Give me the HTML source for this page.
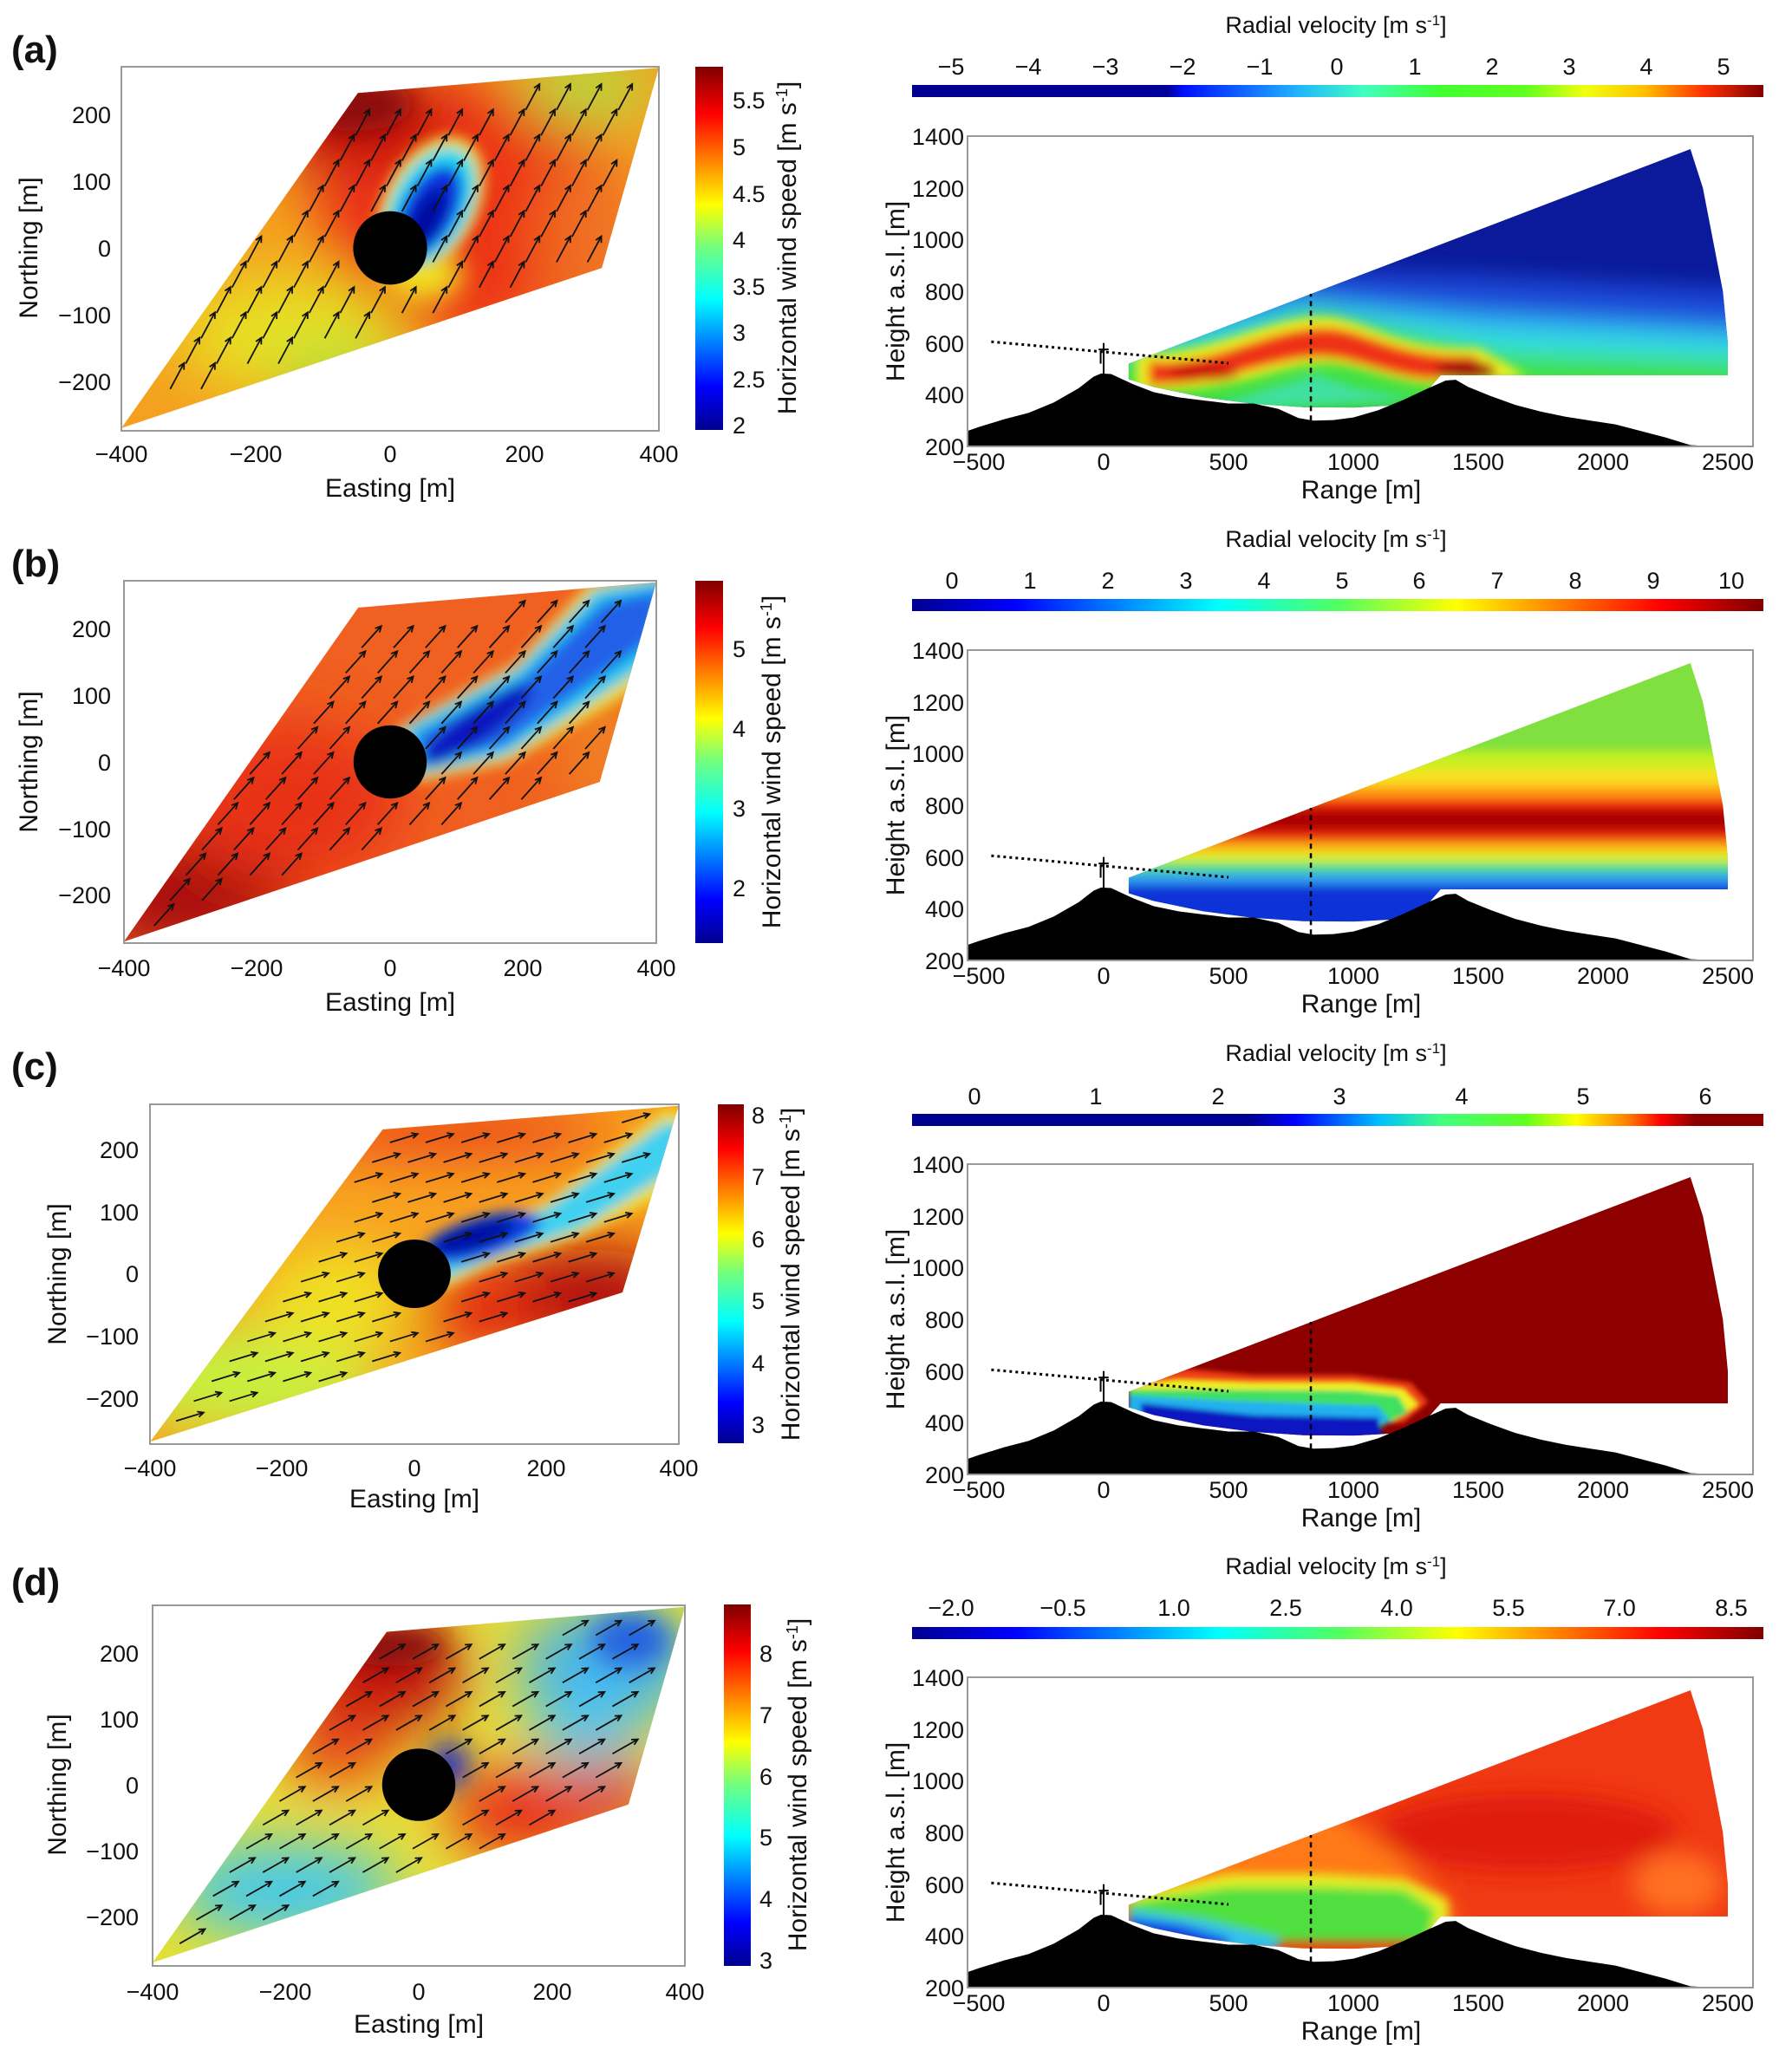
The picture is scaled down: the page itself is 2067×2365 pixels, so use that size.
<!DOCTYPE html>
<html><head><meta charset="utf-8"><style>
html,body{margin:0;padding:0;background:#fff}
svg{display:block}
text{font-family:"Liberation Sans","DejaVu Sans",sans-serif;fill:#111}
.t{font-size:27px}
.lb{font-size:30px}
.pl{font-size:44px;font-weight:bold}
.r{text-anchor:end}.m{text-anchor:middle}
</style></head><body>
<svg id="s" width="2067" height="2365" viewBox="0 0 2067 2365" xmlns="http://www.w3.org/2000/svg">
<defs>
<filter id="b0" x="-50%" y="-50%" width="200%" height="200%"><feGaussianBlur stdDeviation="10"/></filter>
<filter id="b1" x="-50%" y="-50%" width="200%" height="200%"><feGaussianBlur stdDeviation="20"/></filter>
<filter id="b2" x="-50%" y="-50%" width="200%" height="200%"><feGaussianBlur stdDeviation="45"/></filter>
<clipPath id="par"><polygon points="-400,-270 -48,232 400,270 315,-30"/></clipPath>
<clipPath id="sec"><polygon points="100,520 100,460 200,430 400,390 600,365 800,352 1000,350 1150,358 1300,420 1350,475 2500,475 2500,600 2480,800 2440,1000 2400,1200 2350,1350"/></clipPath>
<linearGradient id="jetv" x1="0" y1="1" x2="0" y2="0">
<stop offset="0" stop-color="#00008f"/><stop offset="0.12" stop-color="#0000ff"/><stop offset="0.36" stop-color="#00ffff"/><stop offset="0.5" stop-color="#70ff80"/><stop offset="0.62" stop-color="#ffff00"/><stop offset="0.87" stop-color="#ff0000"/><stop offset="1" stop-color="#800000"/></linearGradient>
<linearGradient id="ja" x1="0" x2="1"><stop offset="0" stop-color="#00008f"/><stop offset="0.3" stop-color="#00009a"/><stop offset="0.32" stop-color="#0010ff"/><stop offset="0.45" stop-color="#20b0ff"/><stop offset="0.53" stop-color="#40ffc0"/><stop offset="0.62" stop-color="#40ff30"/><stop offset="0.72" stop-color="#60ff20"/><stop offset="0.79" stop-color="#f0ff10"/><stop offset="0.86" stop-color="#ffc000"/><stop offset="0.93" stop-color="#ff3000"/><stop offset="1" stop-color="#800000"/></linearGradient>
<linearGradient id="jh" x1="0" x2="1"><stop offset="0" stop-color="#00008f"/><stop offset="0.12" stop-color="#0000ff"/><stop offset="0.36" stop-color="#00ffff"/><stop offset="0.5" stop-color="#50ff60"/><stop offset="0.64" stop-color="#ffff00"/><stop offset="0.88" stop-color="#ff0000"/><stop offset="1" stop-color="#800000"/></linearGradient>
<linearGradient id="jc" x1="0" x2="1"><stop offset="0" stop-color="#00008f"/><stop offset="0.4" stop-color="#000095"/><stop offset="0.45" stop-color="#0000ff"/><stop offset="0.55" stop-color="#00c0ff"/><stop offset="0.62" stop-color="#40ff80"/><stop offset="0.72" stop-color="#60ff20"/><stop offset="0.78" stop-color="#ffff00"/><stop offset="0.84" stop-color="#ff8000"/><stop offset="0.88" stop-color="#ff0000"/><stop offset="0.92" stop-color="#8a0000"/><stop offset="1" stop-color="#8a0000"/></linearGradient>
</defs>
<rect width="2067" height="2365" fill="#fff"/>

<!-- (a) -->
<g transform="translate(450,286) scale(0.775,-0.77)">
 <g clip-path="url(#par)">
  <rect x="-420" y="-300" width="840" height="600" fill="#f4a020"/>
  <g filter="url(#b2)">
   <ellipse cx="120" cy="60" rx="230" ry="200" fill="#ec3018"/>
   <ellipse cx="-60" cy="200" rx="140" ry="80" fill="#c01010"/>
   <ellipse cx="-150" cy="-130" rx="170" ry="90" fill="#e8e020"/>
   <ellipse cx="-80" cy="-190" rx="90" ry="40" fill="#a0e040"/>
   <ellipse cx="290" cy="240" rx="100" ry="50" fill="#b0e040"/>
   <ellipse cx="300" cy="10" rx="80" ry="150" fill="#f07020"/>
  </g>
  <g filter="url(#b1)">
   <ellipse cx="-55" cy="215" rx="90" ry="40" fill="#8a0808"/>
   <ellipse cx="50" cy="-40" rx="60" ry="40" fill="#f0e020"/>
  </g>
  <g filter="url(#b0)">
   <ellipse cx="60" cy="65" rx="70" ry="110" transform="rotate(-28 60 65)" fill="#f0e020"/>
   <ellipse cx="60" cy="62" rx="58" ry="96" transform="rotate(-28 60 62)" fill="#20d8f0"/>
   <ellipse cx="58" cy="55" rx="40" ry="75" transform="rotate(-28 58 55)" fill="#0a30e0"/>
   <ellipse cx="55" cy="45" rx="22" ry="50" transform="rotate(-28 55 45)" fill="#0010a0"/>
  </g>
 </g>
 <circle cx="0" cy="0" r="55" fill="#000"/>
 <g id="arA"></g>
</g>
<!-- (b) -->
<g transform="translate(450,879) scale(0.7675,-0.7675)">
 <g clip-path="url(#par)">
  <rect x="-420" y="-300" width="840" height="600" fill="#f06020"/>
  <g filter="url(#b2)">
   <ellipse cx="-300" cy="-200" rx="160" ry="90" fill="#a80e0e"/>
   <ellipse cx="-150" cy="-60" rx="170" ry="120" fill="#e83018"/>
   <ellipse cx="330" cy="20" rx="80" ry="120" fill="#f08020"/>
  </g>
  <g filter="url(#b0)">
   <path d="M10,50 L190,150 L300,270 L440,290 L420,140 L320,80 L180,0 L40,-30Z" fill="#f0e020"/>
   <path d="M20,50 L190,140 L310,260 L430,280 L410,160 L310,95 L175,10 L40,-20Z" fill="#20c8f0"/>
   <path d="M40,40 L200,125 L320,240 L410,260 L390,180 L290,110 L170,25 L50,-5Z" fill="#2060e8"/>
   <ellipse cx="130" cy="55" rx="100" ry="25" transform="rotate(35 130 55)" fill="#0818c0"/>
  </g>
 </g>
 <circle cx="0" cy="0" r="55" fill="#000"/>
 <g id="arB"></g>
</g>
<!-- (c) -->
<g transform="translate(478,1469.5) scale(0.762,-0.7175)">
 <g clip-path="url(#par)">
  <rect x="-420" y="-300" width="840" height="600" fill="#f8a020"/>
  <g filter="url(#b2)">
   <ellipse cx="-250" cy="-170" rx="200" ry="90" fill="#c8f040"/>
   <ellipse cx="-120" cy="-40" rx="120" ry="90" fill="#f0e020"/>
   <ellipse cx="260" cy="-40" rx="160" ry="80" fill="#b01010"/>
   <ellipse cx="100" cy="-60" rx="100" ry="60" fill="#e02010"/>
   <ellipse cx="60" cy="230" rx="240" ry="35" fill="#e83018"/>
  </g>
  <g filter="url(#b0)">
   <path d="M20,45 L200,115 L380,265 L430,250 L420,150 L250,60 L120,15 L40,-25Z" fill="#f0e020"/>
   <path d="M30,42 L200,105 L380,245 L425,235 L400,170 L250,72 L120,25 L40,-12Z" fill="#40d0f0"/>
   <ellipse cx="100" cy="58" rx="95" ry="32" transform="rotate(18 100 58)" fill="#1040e0"/>
   <ellipse cx="90" cy="60" rx="65" ry="20" transform="rotate(18 90 60)" fill="#0010a0"/>
  </g>
 </g>
 <circle cx="0" cy="0" r="55" fill="#000"/>
 <g id="arC"></g>
</g>
<!-- (d) -->
<g transform="translate(483,2059) scale(0.768,-0.76)">
 <g clip-path="url(#par)">
  <rect x="-420" y="-300" width="840" height="600" fill="#e8e030"/>
  <g filter="url(#b2)">
   <ellipse cx="-60" cy="170" rx="130" ry="90" fill="#c01010"/>
   <ellipse cx="-120" cy="60" rx="90" ry="60" fill="#e84018"/>
   <ellipse cx="280" cy="180" rx="130" ry="90" fill="#40b0f0"/>
   <ellipse cx="250" cy="90" rx="80" ry="60" fill="#50c8f0"/>
   <ellipse cx="160" cy="-40" rx="120" ry="70" fill="#e82818"/>
   <ellipse cx="300" cy="-20" rx="60" ry="60" fill="#e03020"/>
   <ellipse cx="-200" cy="-160" rx="170" ry="70" fill="#40c8f0"/>
  </g>
  <g filter="url(#b1)">
   <ellipse cx="-40" cy="210" rx="80" ry="30" fill="#8a0808"/>
   <ellipse cx="320" cy="220" rx="60" ry="40" fill="#2060e0"/>
   <ellipse cx="45" cy="30" rx="28" ry="35" fill="#0820d0"/>
  </g>
 </g>
 <circle cx="0" cy="0" r="55" fill="#000"/>
 <g id="arD"></g>
</g>

<g fill="none" stroke="#999" stroke-width="2">
 <rect x="140" y="77" width="620" height="420"/>
 <rect x="143" y="670" width="614" height="418"/>
 <rect x="173" y="1274" width="610" height="392"/>
 <rect x="176" y="1852" width="614" height="416"/>
</g>
<rect x="802" y="77" width="32" height="419" fill="url(#jetv)"/>
<rect x="802" y="670" width="32" height="418" fill="url(#jetv)"/>
<rect x="828" y="1274" width="30" height="391" fill="url(#jetv)"/>
<rect x="835" y="1851" width="31" height="417" fill="url(#jetv)"/>

<text class="pl" x="13" y="72">(a)</text>
<text class="pl" x="13" y="665">(b)</text>
<text class="pl" x="13" y="1245">(c)</text>
<text class="pl" x="13" y="1840">(d)</text>

<g class="t">
<text class="r" x="128" y="142">200</text><text class="r" x="128" y="219">100</text><text class="r" x="128" y="296">0</text><text class="r" x="128" y="373">−100</text><text class="r" x="128" y="450">−200</text>
<text class="m" x="140" y="533">−400</text><text class="m" x="295" y="533">−200</text><text class="m" x="450" y="533">0</text><text class="m" x="605" y="533">200</text><text class="m" x="760" y="533">400</text>
<text x="845" y="500">2</text><text x="845" y="447">2.5</text><text x="845" y="393">3</text><text x="845" y="340">3.5</text><text x="845" y="286">4</text><text x="845" y="233">4.5</text><text x="845" y="179">5</text><text x="845" y="125">5.5</text>
</g>
<text class="lb m" x="450" y="573">Easting [m]</text>
<text class="lb m" transform="translate(43,286) rotate(-90)">Northing [m]</text>
<text class="lb m" transform="translate(918,286) rotate(-90)">Horizontal wind speed [m s<tspan dy="-10" font-size="18">-1</tspan><tspan dy="10">]</tspan></text>

<g class="t">
<text class="r" x="128" y="735">200</text><text class="r" x="128" y="812">100</text><text class="r" x="128" y="889">0</text><text class="r" x="128" y="966">−100</text><text class="r" x="128" y="1042">−200</text>
<text class="m" x="143" y="1126">−400</text><text class="m" x="296" y="1126">−200</text><text class="m" x="450" y="1126">0</text><text class="m" x="603" y="1126">200</text><text class="m" x="757" y="1126">400</text>
<text x="845" y="1034">2</text><text x="845" y="942">3</text><text x="845" y="850">4</text><text x="845" y="758">5</text>
</g>
<text class="lb m" x="450" y="1166">Easting [m]</text>
<text class="lb m" transform="translate(43,879) rotate(-90)">Northing [m]</text>
<text class="lb m" transform="translate(900,879) rotate(-90)">Horizontal wind speed [m s<tspan dy="-10" font-size="18">-1</tspan><tspan dy="10">]</tspan></text>

<g class="t">
<text class="r" x="160" y="1336">200</text><text class="r" x="160" y="1408">100</text><text class="r" x="160" y="1479">0</text><text class="r" x="160" y="1551">−100</text><text class="r" x="160" y="1623">−200</text>
<text class="m" x="173" y="1703">−400</text><text class="m" x="325" y="1703">−200</text><text class="m" x="478" y="1703">0</text><text class="m" x="630" y="1703">200</text><text class="m" x="783" y="1703">400</text>
<text x="867" y="1653">3</text><text x="867" y="1582">4</text><text x="867" y="1510">5</text><text x="867" y="1439">6</text><text x="867" y="1367">7</text><text x="867" y="1296">8</text>
</g>
<text class="lb m" x="478" y="1739">Easting [m]</text>
<text class="lb m" transform="translate(76,1470) rotate(-90)">Northing [m]</text>
<text class="lb m" transform="translate(922,1470) rotate(-90)">Horizontal wind speed [m s<tspan dy="-10" font-size="18">-1</tspan><tspan dy="10">]</tspan></text>

<g class="t">
<text class="r" x="160" y="1917">200</text><text class="r" x="160" y="1993">100</text><text class="r" x="160" y="2069">0</text><text class="r" x="160" y="2145">−100</text><text class="r" x="160" y="2221">−200</text>
<text class="m" x="176" y="2307">−400</text><text class="m" x="329" y="2307">−200</text><text class="m" x="483" y="2307">0</text><text class="m" x="637" y="2307">200</text><text class="m" x="790" y="2307">400</text>
<text x="876" y="2271">3</text><text x="876" y="2200">4</text><text x="876" y="2129">5</text><text x="876" y="2059">6</text><text x="876" y="1988">7</text><text x="876" y="1917">8</text>
</g>
<text class="lb m" x="483" y="2345">Easting [m]</text>
<text class="lb m" transform="translate(76,2059) rotate(-90)">Northing [m]</text>
<text class="lb m" transform="translate(930,2059) rotate(-90)">Horizontal wind speed [m s<tspan dy="-10" font-size="18">-1</tspan><tspan dy="10">]</tspan></text>

<!-- RIGHT PANELS -->
<g id="R0">
 <g transform="translate(1273,574.7) scale(0.288,-0.2983)">
  <g clip-path="url(#sec)">
   <rect x="0" y="300" width="2600" height="1100" fill="#0a1a9a"/>
   <g filter="url(#b2)">
    <path d="M0,640 L800,880 L1500,860 L2600,800 L2600,300 L0,300Z" fill="#1a48d8"/>
    <path d="M0,580 L800,780 L1500,720 L2600,660 L2600,300 L0,300Z" fill="#30b0f0"/>
    <path d="M0,560 L800,730 L1500,650 L2600,600 L2600,300 L0,300Z" fill="#30e0e0"/>
    <path d="M0,540 L500,600 L850,720 L1200,640 L1600,560 L2600,530 L2600,300 L0,300Z" fill="#40e040"/>
   </g>
   <g filter="url(#b1)">
    <path d="M130,560 C400,540 650,700 870,700 C1050,700 1150,570 1500,580 L1700,470 L1300,440 C1100,460 1000,530 850,520 C650,500 500,400 130,420Z" fill="#f0f020"/>
    <path d="M180,530 C420,500 650,660 880,660 C1050,660 1150,545 1480,550 L1580,475 L1300,460 C1100,480 1000,550 850,545 C650,535 450,430 180,440Z" fill="#ee3014"/>
    <ellipse cx="1450" cy="495" rx="120" ry="35" fill="#a00808"/>
    <ellipse cx="400" cy="485" rx="140" ry="30" fill="#c81008"/>
    <path d="M450,360 L850,480 L1000,430 L1250,380 L450,340Z" fill="#40e0a0"/>
   </g>
  </g>
 </g>
</g>
<g id="R1" transform="translate(0,593)">
 <g transform="translate(1273,574.7) scale(0.288,-0.2983)">
  <g clip-path="url(#sec)">
   <rect x="0" y="300" width="2600" height="1100" fill="#80e040"/>
   <g filter="url(#b1)">
    <rect x="0" y="930" width="2600" height="80" fill="#c8f020"/>
    <rect x="0" y="870" width="2600" height="70" fill="#f8e020"/>
    <rect x="0" y="820" width="2600" height="55" fill="#ff9818"/>
    <rect x="0" y="780" width="2600" height="45" fill="#f02810"/>
    <rect x="0" y="700" width="2600" height="85" fill="#a80404"/>
    <rect x="0" y="655" width="2600" height="50" fill="#e82010"/>
    <rect x="0" y="615" width="2600" height="45" fill="#ffb018"/>
    <rect x="0" y="575" width="2600" height="45" fill="#e0f020"/>
    <rect x="0" y="535" width="2600" height="45" fill="#50e080"/>
    <rect x="0" y="490" width="2600" height="50" fill="#30a0f0"/>
    <rect x="0" y="300" width="2600" height="195" fill="#1030d8"/>
   </g>
  </g>
 </g>
</g>
<g id="R2" transform="translate(0,1186)">
 <g transform="translate(1273,574.7) scale(0.288,-0.2983)">
  <g clip-path="url(#sec)">
   <rect x="0" y="300" width="2600" height="1100" fill="#8e0000"/>
   <g filter="url(#b0)">
    <path d="M100,570 L300,610 L600,585 L1000,585 L1230,555 L1300,480 L1200,400 L100,400Z" fill="#f04018"/>
    <path d="M100,545 L300,565 L600,555 L1000,555 L1200,530 L1260,470 L1150,400 L100,400Z" fill="#f0f020"/>
    <path d="M100,530 L400,530 L1000,525 L1180,505 L1220,440 L1100,380 L100,380Z" fill="#40e060"/>
    <path d="M100,505 L500,485 L1100,465 L1150,400 L100,380Z" fill="#20b0f0"/>
    <path d="M150,475 L600,430 L1100,420 L1120,340 L150,340Z" fill="#0818c0"/>
   </g>
  </g>
 </g>
</g>
<g id="R3" transform="translate(0,1778)">
 <g transform="translate(1273,574.7) scale(0.288,-0.2983)">
  <g clip-path="url(#sec)">
   <rect x="0" y="300" width="2600" height="1100" fill="#f03a14"/>
   <g filter="url(#b2)">
    <path d="M0,400 L0,800 L900,900 L1200,700 L1400,500 L1400,400Z" fill="#ff7a18"/>
    <ellipse cx="1700" cy="800" rx="600" ry="150" fill="#e01a10"/>
    <ellipse cx="2300" cy="600" rx="180" ry="120" fill="#ff7020"/>
   </g>
   <g filter="url(#b1)">
    <path d="M100,560 L500,640 L900,640 L1200,620 L1380,540 L1380,380 L100,380Z" fill="#e8f020"/>
    <path d="M100,530 L500,590 L900,590 L1200,580 L1330,500 L1300,380 L100,380Z" fill="#50e040"/>
    <path d="M100,500 L400,460 L700,390 L700,340 L100,340Z" fill="#30c0f0"/>
    <path d="M100,470 L300,445 L500,390 L500,340 L100,340Z" fill="#1040e0"/>
   </g>
  </g>
 </g>
</g>

<g id="terr" transform="translate(1273,574.7) scale(0.288,-0.2983)">
 <polygon fill="#000" points="-545,200 -545,260 -500,275 -400,305 -300,330 -200,370 -100,425 -40,470 -10,482 30,480 70,462 120,440 200,410 300,390 400,378 500,366 600,366 700,345 780,310 840,300 920,302 1000,312 1100,340 1200,380 1300,425 1370,455 1410,458 1460,430 1550,395 1650,360 1750,335 1850,315 1950,300 2050,285 2150,260 2250,235 2350,205 2450,200"/>
 <line x1="-450" y1="605" x2="500" y2="522" stroke="#000" stroke-width="3" stroke-dasharray="3 4" vector-effect="non-scaling-stroke"/>
 <line x1="830" y1="300" x2="830" y2="790" stroke="#000" stroke-width="2.5" stroke-dasharray="6 5" vector-effect="non-scaling-stroke"/>
 <line x1="0" y1="480" x2="0" y2="600" stroke="#000" stroke-width="2" vector-effect="non-scaling-stroke"/>
 <line x1="-20" y1="575" x2="20" y2="575" stroke="#000" stroke-width="2" vector-effect="non-scaling-stroke"/>
 <line x1="-12" y1="570" x2="-12" y2="520" stroke="#000" stroke-width="2" vector-effect="non-scaling-stroke"/>
</g>
<use href="#terr" transform="translate(0,593)"/>
<use href="#terr" transform="translate(0,1186)"/>
<use href="#terr" transform="translate(0,1778)"/>

<g id="rax">
 <rect x="1116" y="157" width="906" height="358" fill="none" stroke="#999" stroke-width="2"/>
 <g class="t">
  <text class="r" x="1112" y="525">200</text><text class="r" x="1112" y="465">400</text><text class="r" x="1112" y="406">600</text><text class="r" x="1112" y="346">800</text><text class="r" x="1112" y="286">1000</text><text class="r" x="1112" y="227">1200</text><text class="r" x="1112" y="167">1400</text>
  <text class="m" x="1129" y="542">−500</text><text class="m" x="1273" y="542">0</text><text class="m" x="1417" y="542">500</text><text class="m" x="1561" y="542">1000</text><text class="m" x="1705" y="542">1500</text><text class="m" x="1849" y="542">2000</text><text class="m" x="1993" y="542">2500</text>
 </g>
 <text class="lb m" x="1570" y="575">Range [m]</text>
 <text class="lb m" transform="translate(1043,336) rotate(-90)">Height a.s.l. [m]</text>
 <text class="t m" x="1541" y="38">Radial velocity [m s<tspan dy="-9" font-size="17">-1</tspan><tspan dy="9">]</tspan></text>
</g>
<use href="#rax" transform="translate(0,593)"/>
<use href="#rax" transform="translate(0,1186)"/>
<use href="#rax" transform="translate(0,1778)"/>

<rect x="1052" y="98" width="982" height="14" fill="url(#ja)"/>
<rect x="1052" y="691" width="982" height="14" fill="url(#jh)"/>
<rect x="1052" y="1285" width="982" height="14" fill="url(#jc)"/>
<rect x="1052" y="1877" width="982" height="14" fill="url(#jh)"/>
<g class="t m">
 <text x="1097" y="86">−5</text><text x="1186" y="86">−4</text><text x="1275" y="86">−3</text><text x="1364" y="86">−2</text><text x="1453" y="86">−1</text><text x="1542" y="86">0</text><text x="1632" y="86">1</text><text x="1721" y="86">2</text><text x="1810" y="86">3</text><text x="1899" y="86">4</text><text x="1988" y="86">5</text>
 <text x="1098" y="679">0</text><text x="1188" y="679">1</text><text x="1278" y="679">2</text><text x="1368" y="679">3</text><text x="1458" y="679">4</text><text x="1548" y="679">5</text><text x="1637" y="679">6</text><text x="1727" y="679">7</text><text x="1817" y="679">8</text><text x="1907" y="679">9</text><text x="1997" y="679">10</text>
 <text x="1124" y="1274">0</text><text x="1264" y="1274">1</text><text x="1405" y="1274">2</text><text x="1545" y="1274">3</text><text x="1686" y="1274">4</text><text x="1826" y="1274">5</text><text x="1967" y="1274">6</text>
 <text x="1097" y="1864">−2.0</text><text x="1226" y="1864">−0.5</text><text x="1354" y="1864">1.0</text><text x="1483" y="1864">2.5</text><text x="1611" y="1864">4.0</text><text x="1740" y="1864">5.5</text><text x="1868" y="1864">7.0</text><text x="1997" y="1864">8.5</text>
</g>
</svg>
<script>
(function(){
 var NS="http://www.w3.org/2000/svg";
 var P=[[-400,-270],[-48,232],[400,270],[315,-30]];
 function inside(x,y){
  var n=P.length,c=false;
  for(var i=0,j=n-1;i<n;j=i++){
   var xi=P[i][0],yi=P[i][1],xj=P[j][0],yj=P[j][1];
   if(((yi>y)!=(yj>y))&&(x<(xj-xi)*(y-yi)/(yj-yi)+xi))c=!c;
  }
  return c;
 }
 function arrows(id,ang,len,sx,sy){
  var g=document.getElementById(id),a=ang*Math.PI/180,dx=Math.cos(a),dy=Math.sin(a);
  var row=0;
  for(var y=-230;y<=250;y+=sy,row++){
   for(var x=-340;x<=390;x+=sx){
    var ox=x+(row%2)*sx/2;
    var x0=ox-dx*len/2,y0=y-dy*len/2,x1=ox+dx*len/2,y1=y+dy*len/2;
    if(!inside(x0-12,y0)||!inside(x1+12,y1)||!inside(x0,y0-8)||!inside(x1,y1+8))continue;
    if(Math.hypot(ox,y)<72)continue;
    var l=document.createElementNS(NS,"line");
    l.setAttribute("x1",x0);l.setAttribute("y1",y0);l.setAttribute("x2",x1);l.setAttribute("y2",y1);
    l.setAttribute("stroke","#111");l.setAttribute("stroke-width","1.8");l.setAttribute("vector-effect","non-scaling-stroke");
    g.appendChild(l);
    var h=10,b1=a+Math.PI*0.85,b2=a-Math.PI*0.85;
    var p=document.createElementNS(NS,"path");
    p.setAttribute("d","M"+(x1+h*Math.cos(b1))+","+(y1+h*Math.sin(b1))+" L"+x1+","+y1+" L"+(x1+h*Math.cos(b2))+","+(y1+h*Math.sin(b2)));
    p.setAttribute("fill","none");p.setAttribute("stroke","#111");p.setAttribute("stroke-width","1.8");p.setAttribute("vector-effect","non-scaling-stroke");
    g.appendChild(p);
   }
  }
 }
 arrows("arA",62,44,46,38);
 arrows("arB",48,44,48,38);
 arrows("arC",18,44,54,32);
 arrows("arD",30,44,50,36);
})();
</script>
</body></html>
